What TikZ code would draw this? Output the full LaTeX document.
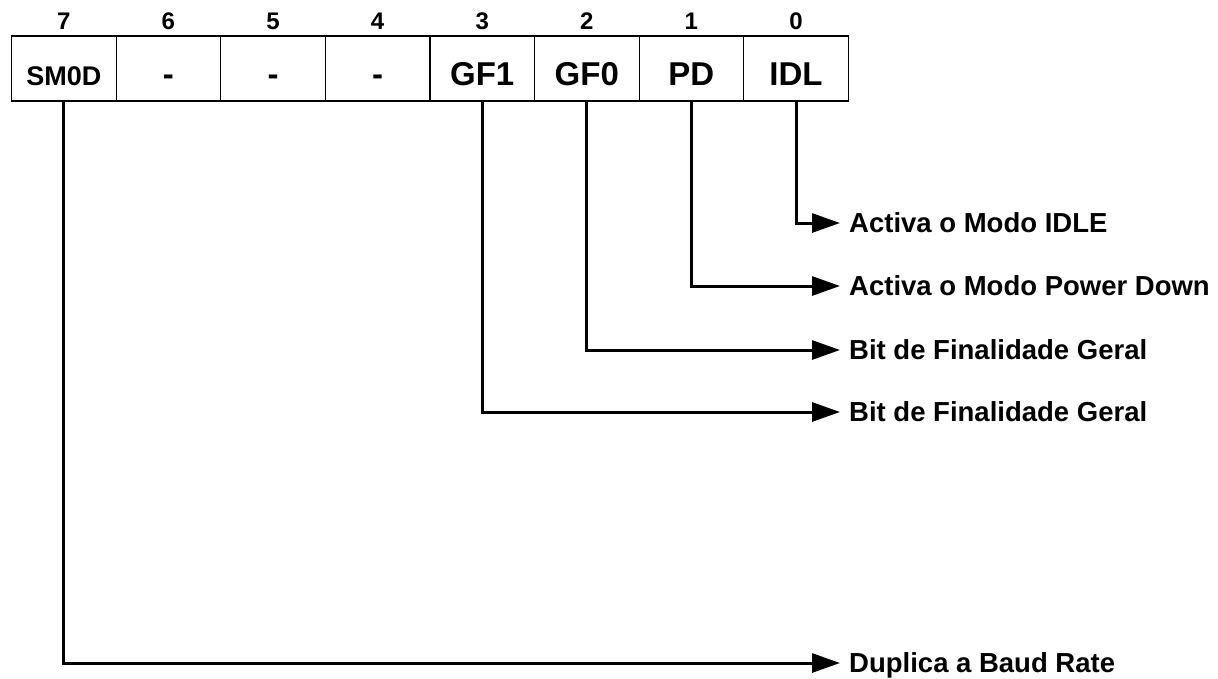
\documentclass[tikz,border=0pt]{standalone}
\usepackage{fontspec}
\setmainfont{Liberation Sans}
\usetikzlibrary{arrows.meta}

\begin{document}
\begin{tikzpicture}[x=1pt,y=-1pt]
	\tikzstyle{cell}=[draw,line width=1.2pt,minimum width=104.6pt,minimum height=65pt,inner sep=0pt,text height=33pt,text depth=0pt]
	\tikzstyle{bitnum}=[inner sep=0pt,text height=17pt,text depth=0pt,font=\bfseries\fontsize{24}{24}\selectfont]
	\tikzstyle{desc}=[anchor=west,inner sep=0pt,text height=19.5pt,text depth=0pt,font=\bfseries\fontsize{27.5}{27.5}\selectfont]
	\tikzstyle{lead}=[line width=3pt,line join=miter,shorten >=9pt,-{Triangle[length=28pt,width=19pt]}]
	
	\useasboundingbox (0,0) rectangle (1218,678);
	
	\foreach \lbl/\nm/\fs [count=\i from 0] in {SM0D/sm/27,-/b6/33,-/b5/33,-/b4/33,GF1/gf1/33,GF0/gf0/33,PD/pd/33,IDL/idl/33}{
		\pgfmathtruncatemacro\bit{7-\i}
		\node[cell,font=\bfseries\fontsize{\fs}{\fs}\selectfont] (\nm) at ({11.5+104.6*(\i+0.5)},68.5) {\lbl};
		\node[bitnum] (n\nm) at ({11.5+104.6*(\i+0.5)},21) {\bit};
	}
	
	\foreach \src/\yy/\txt in {idl/223/Activa o Modo IDLE,pd/286/Activa o Modo Power Down,gf0/350/Bit de Finalidade Geral,gf1/412/Bit de Finalidade Geral,sm/663/Duplica a Baud Rate}{
		\node[desc] (d\src) at (849,\yy) {\txt};
		\draw[lead] (\src.south) |- (d\src.west);
	}
\end{tikzpicture}
\end{document}
